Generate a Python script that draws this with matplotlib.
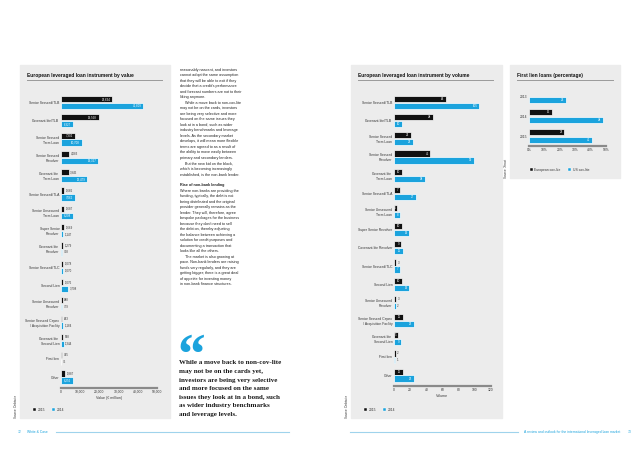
import numpy as np
import matplotlib
matplotlib.use("Agg")
import matplotlib.pyplot as plt
from matplotlib.patches import Rectangle, Patch
from matplotlib.lines import Line2D

# ---------------------------------------------------------
# Leveraged loan spread (pages 72-73) - two bar charts by
# instrument, a small first-lien chart, body text and a pull quote
# ---------------------------------------------------------

value_cats = [
    "Senior Secured/TLB", "Covenant-lite/TLB", "Senior Secured\nTerm Loan",
    "Senior Secured\nRevolver", "Covenant-lite\nTerm Loan", "Senior Secured/TLA",
    "Senior Unsecured\nTerm Loan", "Super Senior\nRevolver", "Covenant-lite\nRevolver",
    "Senior Secured/TLC", "Second Lien", "Senior Unsecured\nRevolver",
    "Senior Secured Capex\n/ Acquisition Facility", "Covenant-lite\nSecond Lien",
    "First lien", "Other",
]
value_2015 = [26634, 19568, 7302, 4083, 3945, 1666, 1687, 1669, 1279, 1078, 1076, 888, 643, 898, 475, 1887]
value_2014 = [42809, 6327, 10708, 19367, 13479, 7062, 6208, 1147, 768, 1070, 3708, 779, 1184, 1344, 75, 6256]

volume_cats = [
    "Senior Secured/TLB", "Covenant-lite/TLB", "Senior Secured\nTerm Loan",
    "Senior Secured\nRevolver", "Covenant-lite\nTerm Loan", "Senior Secured/TLA",
    "Senior Unsecured\nTerm Loan", "Super Senior Revolver", "Covenant-lite Revolver",
    "Senior Secured/TLC", "Second Lien", "Senior Unsecured\nRevolver",
    "Senior Secured Capex\n/ Acquisition Facility", "Covenant-lite\nSecond Lien",
    "First lien", "Other",
]
volume_2015 = [64, 48, 21, 45, 10, 7, 4, 10, 9, 3, 10, 3, 11, 5, 2, 11]
volume_2014 = [105, 10, 23, 99, 38, 27, 8, 19, 11, 7, 19, 2, 25, 9, 1, 25]

lien_years = ["2013", "2014", "2015"]
lien_europe = [np.nan, 15, 23]
lien_us = [24, 48, 41]

value_ticks = [0, 10000, 20000, 30000, 40000, 50000]
volume_ticks = [0, 20, 40, 60, 80, 100, 120]
lien_ticks = [0, 10, 20, 30, 40, 50]

body_lines = [
    "reasonably nascent, and investors",
    "cannot adopt the same assumption",
    "that they will be able to exit if they",
    "decide that a credit's performance",
    "and forecast numbers are not to their",
    "liking anymore.",
    "\tWhile a move back to non-cov-lite",
    "may not be on the cards, investors",
    "are being very selective and more",
    "focused on the same issues they",
    "look at in a bond, such as wider",
    "industry benchmarks and leverage",
    "levels. As the secondary market",
    "develops, it will mean more flexible",
    "terms are agreed to as a result of",
    "the ability to move easily between",
    "primary and secondary lenders.",
    "\tBut the new kid on the block,",
    "which is becoming increasingly",
    "established, is the non-bank lender.",
    "",
    "*Rise of non-bank lending",
    "Where non-banks are providing the",
    "funding, typically, the debt is not",
    "being distributed and the original",
    "provider generally remains as the",
    "lender. They will, therefore, agree",
    "bespoke packages for the business",
    "because they don't need to sell",
    "the debt on, thereby adjusting",
    "the balance between achieving a",
    "solution for credit purposes and",
    "documenting a transaction that",
    "looks like all the others.",
    "\tThe market is also growing at",
    "pace. Non-bank lenders are raising",
    "funds very regularly, and they are",
    "getting bigger; there is a great deal",
    "of appetite for investing money",
    "in non-bank finance structures.",
]

quote_lines = [
    "While a move back to non-cov-lite",
    "may not be on the cards yet,",
    "investors are being very selective",
    "and more focused on the same",
    "issues they look at in a bond, such",
    "as wider industry benchmarks",
    "and leverage levels.",
]

BLACK = "#111111"
BLUE = "#1ba3dd"
PANEL = "#ececec"
TXT = "#333333"
SANS = "Liberation Sans"

W, H = 640, 453
plt.rcParams["font.family"] = SANS

fig = plt.figure(figsize=(W / 100, H / 100), dpi=100)
fig.patch.set_facecolor("white")


def px_axes(x0, y0, x1, y1):
    return fig.add_axes([x0 / W, 1 - y1 / H, (x1 - x0) / W, (y1 - y0) / H])


def ftext(x, y, s, **kw):
    return fig.text(x / W, 1 - y / H, s, **kw)


def panel(x0, y0, x1, y1):
    fig.add_artist(Rectangle((x0 / W, 1 - y1 / H), (x1 - x0) / W, (y1 - y0) / H,
                             transform=fig.transFigure, color=PANEL, zorder=0))


def hline(x0, x1, y, color, lw):
    fig.add_artist(Line2D([x0 / W, x1 / W], [1 - y / H, 1 - y / H],
                          transform=fig.transFigure, color=color, lw=lw))


def title(x, x_end, y, s):
    ftext(x, y, s, fontsize=3.5, fontweight="bold", color=BLACK, va="center", ha="left")
    hline(x, x_end, y + 5, "#9a9a9a", 0.7)


def style_axes(ax):
    ax.set_facecolor("none")
    for s in ["top", "right", "left"]:
        ax.spines[s].set_visible(False)
    ax.spines["bottom"].set_color("#8a8a8a")
    ax.spines["bottom"].set_linewidth(1.6)
    ax.tick_params(length=0, labelsize=2.4, colors=TXT, pad=1.2)


def bar_label(ax, v, y, s, inside):
    if inside:
        ax.annotate(s, xy=(v, y), xytext=(-1.2, 0), textcoords="offset points",
                    ha="right", va="center", fontsize=2.1, color="white")
    else:
        ax.annotate(s, xy=(v, y), xytext=(1.2, 0), textcoords="offset points",
                    ha="left", va="center", fontsize=2.1, color=TXT)


def instrument_chart(ax, cats, a, b, xmax, ticks, fmt, thresh, xlabel):
    pos = np.arange(len(cats))
    ax.barh(pos - 0.19, a, height=0.34, color=BLACK, edgecolor="white", lw=0.5)
    ax.barh(pos + 0.19, b, height=0.34, color=BLUE, edgecolor="white", lw=0.5)
    for i in range(len(cats)):
        bar_label(ax, a[i], pos[i] - 0.19, fmt(a[i]), a[i] >= thresh)
        bar_label(ax, b[i], pos[i] + 0.19, fmt(b[i]), b[i] >= thresh)
    ax.set_xlim(0, xmax)
    ax.set_ylim(15.6, -0.52)
    ax.set_yticks(pos)
    ax.set_yticklabels(cats, fontsize=2.4, linespacing=1.3)
    ax.set_xticks(ticks)
    ax.set_xticklabels([fmt(t) for t in ticks])
    ax.set_xlabel(xlabel, fontsize=2.6, color=TXT, labelpad=2)
    style_axes(ax)


def legend(ax, x, y, labels, handlelen=0.9):
    handles = [Patch(facecolor=BLACK, edgecolor="white", lw=0.3),
               Patch(facecolor=BLUE, edgecolor="white", lw=0.3)]
    ax.legend(handles, labels, loc="center left", bbox_to_anchor=(x / W, 1 - y / H),
              bbox_transform=fig.transFigure, ncol=2, frameon=False, fontsize=2.4,
              handlelength=handlelen, handleheight=0.9, handletextpad=0.5,
              columnspacing=2.2, borderpad=0, labelcolor=TXT)


def source(x, y_bottom, s):
    ftext(x, y_bottom, s, fontsize=2.2, rotation=90, color=TXT, ha="center", va="bottom")


# grey panels
panel(20, 65, 170, 418)
panel(351, 65, 502, 418)
panel(510, 65, 620, 178)

# value chart
title(27, 162, 75, "European leveraged loan instrument by value")
ax1 = px_axes(61, 93, 157, 388)
instrument_chart(ax1, value_cats, value_2015, value_2014, 50000, value_ticks,
                 lambda v: f"{v:,.0f}", 5000, "Value (\u20ac million)")
legend(ax1, 31, 410, ["2015", "2014"])
source(16, 418, "Source: Debtwire")

# volume chart
title(358, 493, 75, "European leveraged loan instrument by volume")
ax2 = px_axes(394, 93, 491, 386)
instrument_chart(ax2, volume_cats, volume_2015, volume_2014, 120, volume_ticks,
                 lambda v: f"{v:.0f}", 4, "Volume")
legend(ax2, 362, 410, ["2015", "2014"])
source(347, 418, "Source: Debtwire")

# first lien chart
title(517, 613, 75, "First lien loans (percentage)")
ax3 = px_axes(529, 88, 606, 146)
ypos = np.arange(len(lien_years))
ax3.barh(ypos - 0.2, lien_europe, height=0.3, color=BLACK, edgecolor="white", lw=0.5)
ax3.barh(ypos + 0.2, lien_us, height=0.3, color=BLUE, edgecolor="white", lw=0.5)
for i in range(len(lien_years)):
    if not np.isnan(lien_europe[i]):
        bar_label(ax3, lien_europe[i], ypos[i] - 0.2, f"{lien_europe[i]:.0f}", True)
    bar_label(ax3, lien_us[i], ypos[i] + 0.2, f"{lien_us[i]:.0f}", True)
ax3.set_xlim(0, 50)
ax3.set_ylim(2.5, -0.4)
ax3.set_yticks(ypos)
ax3.set_yticklabels(lien_years)
ax3.set_xticks(lien_ticks)
ax3.set_xticklabels([f"{t}%" for t in lien_ticks])
style_axes(ax3)
legend(ax3, 528, 170, ["European cov-lite", "US cov-lite"])
source(506, 178, "Source: Xtract")

# body text column
for i, line in enumerate(body_lines):
    x = 180
    weight = "normal"
    if line.startswith("\t"):
        x += 5
        line = line[1:]
    if line.startswith("*"):
        weight = "bold"
        line = line[1:]
    ftext(x, 67 + i * 5.5 + 2.75, line, fontsize=2.7, fontweight=weight,
          color="#222222", va="center", ha="left")

# pull quote
ftext(177, 373, "\u201c", fontsize=40, fontweight="bold", family="Liberation Serif",
      color=BLUE, va="baseline", ha="left")
for i, line in enumerate(quote_lines):
    ftext(179, 363 + i * 8.6, line, fontsize=5.0, fontweight="bold",
          family="Liberation Serif", color="#1a1a1a", va="center", ha="left")

# footers
hline(56, 289, 432, "#9fd3ec", 0.8)
hline(350, 518, 432, "#9fd3ec", 0.8)
ftext(18, 432, "72", fontsize=2.4, color=BLUE, va="center", ha="left")
ftext(27, 432, "White & Case", fontsize=2.4, color=BLUE, va="center", ha="left")
ftext(620, 432, "A review and outlook for the international leveraged loan market", fontsize=2.4,
      color=BLUE, va="center", ha="right")
ftext(628, 432, "73", fontsize=2.4, color=BLUE, va="center", ha="left")

fig.savefig("out.png", dpi=100)
plt.close(fig)
